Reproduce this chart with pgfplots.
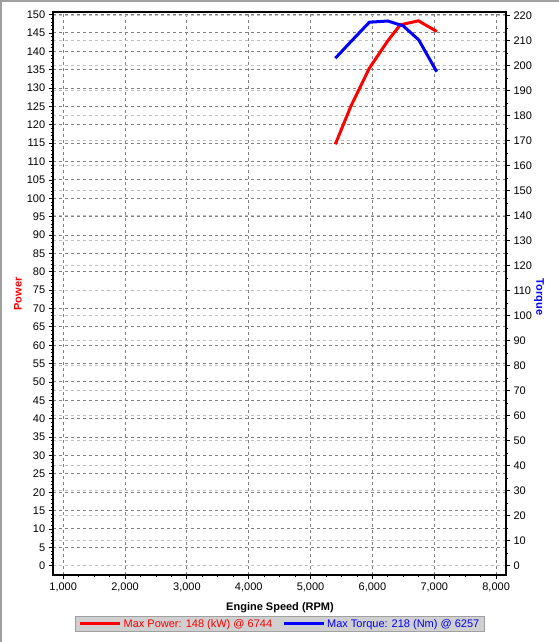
\documentclass[border=0pt]{standalone}
\usepackage{pgfplots}
\pgfplotsset{compat=1.18}
\usepackage{pgfplotstable}
\usepackage{fontspec}
\setmainfont{Liberation Sans}

\definecolor{gridDark}{HTML}{808080}
\definecolor{gridLight}{HTML}{C0C0C0}
\definecolor{legFill}{HTML}{D0D0D0}
\definecolor{legEdge}{HTML}{A0A0A0}
\definecolor{frameGray}{HTML}{A0A0A0}

% power (kW) and torque (Nm) against engine speed
\pgfplotstableread{
rpm   power
5400  114.7
5650  125.0
5950  135.4
6250  142.9
6450  147.2
6744  148.3
7040  145.4
}\powerdata
\pgfplotstableread{
rpm   torque
5400  203.0
5650  209.6
5950  217.4
6250  217.9
6500  215.9
6750  210.3
7040  197.6
}\torquedata

\newcommand\labfont{\fontsize{11bp}{13bp}\selectfont}

\pgfplotsset{
  dyno/.style={
    scale only axis,
    width=453.3bp, height=563bp,
    at={(52.7bp,67bp)}, anchor=south west,
    xmin=830, xmax=8160,
    tick align=outside,
    major tick length=4bp, minor tick length=2bp,
    tick style={black, line width=0.8bp},
    tick label style={font=\labfont},
    /pgf/number format/assume math mode=true,
    /pgf/number format/1000 sep={,},
  },
}

\begin{document}
\begin{tikzpicture}
\useasboundingbox (0,0) rectangle (559bp,642bp);
\draw[frameGray, line width=2bp] (1bp,0) -- (1bp,641bp) -- (559bp,641bp);

% power scale: frame, x axis and dark grid
\begin{axis}[dyno,
  ymin=-2.53, ymax=150.7,
  xtick={1000,2000,...,8000}, minor x tick num=3,
  ytick={0,5,...,150}, minor y tick num=4,
  xtick pos=left, ytick pos=left,
  xmajorgrids, ymajorgrids,
  major grid style={gridDark, dash pattern=on 3bp off 3bp, line width=1bp},
  axis line style={line width=2bp},
]
\end{axis}

% torque scale: right axis and light grid
\begin{axis}[dyno,
  ymin=-3.72, ymax=221.5,
  hide x axis,
  axis y line*=right,
  ytick={0,10,...,220}, minor y tick num=1,
  ymajorgrids,
  major grid style={gridLight, dash pattern=on 3bp off 3bp, line width=1bp},
  axis line style={line width=2bp},
]
\end{axis}

% power curve
\begin{axis}[dyno, hide axis, ymin=-2.53, ymax=150.7]
\addplot[red, line width=3bp] table[x=rpm, y=power] {\powerdata};
\end{axis}

% torque curve, legend and frame on top
\begin{axis}[dyno, hide axis, ymin=-3.72, ymax=221.5, clip=false,
  legend columns=2,
  legend image code/.code={\draw[#1] (0bp,0bp) -- (40bp,0bp);},
  legend style={at={(0.5014,-0.087)}, anchor=center,
    fill=legFill, draw=legEdge, line width=1bp,
    font=\labfont, inner xsep=3bp, inner ysep=1bp,
    /tikz/every even column/.append style={column sep=8bp}},
]
\addlegendimage{red, line width=3bp}
\addlegendentry{\textcolor{red}{Max Power: 148 (kW) @ 6744}}
\addplot[blue, line width=3bp] table[x=rpm, y=torque] {\torquedata};
\addlegendentry{\textcolor{blue}{Max Torque: 218 (Nm) @ 6257}}
\draw[black, line width=2bp] (rel axis cs:0,0) rectangle (rel axis cs:1,1);
\end{axis}

\node[red, rotate=90, font=\labfont\bfseries] at (18bp,348bp) {Power};
\node[blue, rotate=-90, font=\labfont\bfseries] at (539bp,345bp) {Torque};
\node[font=\labfont\bfseries] at (280bp,34bp) {Engine Speed (RPM)};
\end{tikzpicture}
\end{document}
